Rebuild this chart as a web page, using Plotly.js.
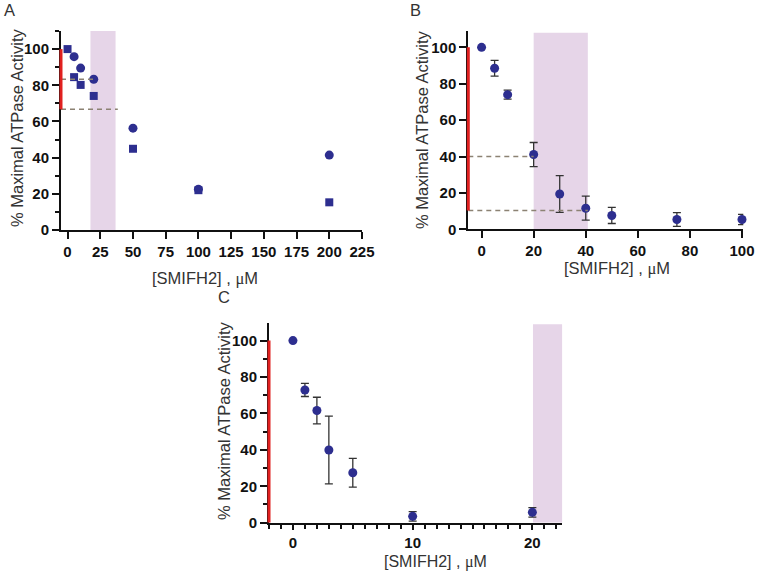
<!DOCTYPE html>
<html>
<head>
<meta charset="utf-8">
<script src="https://cdn.plot.ly/plotly-3.0.1.min.js"></script>
<style>html,body{margin:0;padding:0;background:#fff;}#chart{width:758px;height:572px;}</style>
</head>
<body>
<div id="chart"></div>
<script>
// Panel A
var aCircleX = [5, 10, 20, 50, 100, 200];
var aCircleY = [95.8, 89.5, 83.3, 56.3, 22.5, 41.4];
var aSquareX = [0, 5, 10, 20, 50, 100, 200];
var aSquareY = [100, 84.5, 80.2, 74.1, 44.9, 22.0, 15.3];
// Panel B
var bX = [0, 5, 10, 20, 30, 40, 50, 75, 100];
var bY = [100, 88.5, 74.0, 41.1, 19.4, 11.6, 7.6, 5.4, 5.4];
var bErr = [0, 4.3, 2.5, 6.6, 10.1, 6.6, 4.4, 3.8, 2.8];
// Panel C
var cX = [0, 1, 2, 3, 5, 10, 20];
var cY = [100, 72.9, 61.6, 39.9, 27.4, 3.5, 5.7];
var cErr = [0, 3.6, 7.3, 18.6, 7.9, 2.6, 2.6];

// Tick values
var yTicks = [0, 20, 40, 60, 80, 100];
var aXTicks = [0, 25, 50, 75, 100, 125, 150, 175, 200, 225];
var bXTicks = [0, 20, 40, 60, 80, 100];
var cXTicks = [0, 10, 20];

var yTitle = '% Maximal ATPase Activity';
var xTitle = '[SMIFH2] , <span style="font-family:\'Liberation Serif\', serif">μ</span>M';

var blue = '#2d2e8f';
var tickFont = {family: 'Liberation Sans, Arial, sans-serif', size: 15, color: '#111'};
var titleFont = {family: 'Liberation Sans, Arial, sans-serif', size: 16.5, color: '#333'};
var cTitleFont = {family: 'Liberation Sans, Arial, sans-serif', size: 16, color: '#333'};

function bold(arr) { return arr.map(function (v) { return '<b>' + v + '</b>'; }); }

function axisBase(extra) {
  var o = {
    showgrid: false, zeroline: false, showline: true, linecolor: '#111', linewidth: 2,
    ticks: 'outside', ticklen: 7, tickwidth: 2, tickcolor: '#111', tickfont: tickFont,
    fixedrange: true, tickmode: 'array'
  };
  for (var k in extra) o[k] = extra[k];
  return o;
}

var errStyle = function(arr) {
  return {type: 'data', array: arr, visible: true, color: '#333', thickness: 1.3, width: 4};
};

var traces = [
  {x: aCircleX, y: aCircleY, type: 'scatter', mode: 'markers', xaxis: 'x', yaxis: 'y',
   marker: {symbol: 'circle', size: 9, color: blue}, cliponaxis: false},
  {x: aSquareX, y: aSquareY, type: 'scatter', mode: 'markers', xaxis: 'x', yaxis: 'y',
   marker: {symbol: 'square', size: 8, color: blue}, cliponaxis: false},
  {x: bX, y: bY, type: 'scatter', mode: 'markers', xaxis: 'x2', yaxis: 'y2',
   marker: {symbol: 'circle', size: 9, color: blue}, error_y: errStyle(bErr), cliponaxis: false},
  {x: cX, y: cY, type: 'scatter', mode: 'markers', xaxis: 'x3', yaxis: 'y3',
   marker: {symbol: 'circle', size: 9, color: blue}, error_y: errStyle(cErr), cliponaxis: false}
];

var W = 758, H = 572;
var domA = {x: [61 / W, 362 / W], y: [1 - 230 / H, 1 - 31 / H]};
var domB = {x: [468.3 / W, 743.3 / W], y: [1 - 229.3 / H, 1 - 31 / H]};
var domC = {x: [269 / W, 562.3 / W], y: [1 - 522.7 / H, 1 - 323.3 / H]};

var shade = '#e6d5e8';
var red = '#e0201f';
var dashCol = '#8c8273';
var minorY = {dtick: 10, ticklen: 4, tickwidth: 2, tickcolor: '#111', showgrid: false, tickmode: 'linear', tick0: 0};

var layout = {
  width: W, height: H,
  margin: {l: 0, r: 0, t: 0, b: 0},
  paper_bgcolor: '#fff', plot_bgcolor: 'rgba(0,0,0,0)',
  showlegend: false,
  xaxis: axisBase({domain: domA.x, anchor: 'y', range: [-5, 225], tickvals: aXTicks, ticktext: bold(aXTicks)}),
  yaxis: axisBase({domain: domA.y, anchor: 'x', range: [0, 110], tickvals: yTicks, ticktext: bold(yTicks), minor: minorY}),
  xaxis2: axisBase({domain: domB.x, anchor: 'y2', range: [-5.1, 100.5], tickvals: bXTicks, ticktext: bold(bXTicks)}),
  yaxis2: axisBase({domain: domB.y, anchor: 'x2', range: [0, 109], tickvals: yTicks, ticktext: bold(yTicks)}),
  xaxis3: axisBase({domain: domC.x, anchor: 'y3', range: [-2, 22.5], tickvals: cXTicks, ticktext: bold(cXTicks), ticklen: 5,
    minor: {dtick: 1, ticklen: 4, tickwidth: 2, tickcolor: '#111', showgrid: false, tickmode: 'linear', tick0: 0}}),
  yaxis3: axisBase({domain: domC.y, anchor: 'x3', range: [0, 109.5], tickvals: yTicks, ticktext: bold(yTicks), minor: minorY}),
  shapes: [
    {type: 'rect', xref: 'x', yref: 'y', x0: 17.5, x1: 36.7, y0: 0, y1: 110, fillcolor: shade, line: {width: 0}, layer: 'below'},
    {type: 'rect', xref: 'x2', yref: 'y2', x0: 20, x1: 40.8, y0: 0, y1: 108, fillcolor: shade, line: {width: 0}, layer: 'below'},
    {type: 'rect', xref: 'x3', yref: 'y3', x0: 20.05, x1: 22.5, y0: 0, y1: 109, fillcolor: shade, line: {width: 0}, layer: 'below'},
    {type: 'line', xref: 'x', yref: 'y', x0: -5, x1: 19.5, y0: 83.3, y1: 83.3, line: {color: dashCol, width: 1.5, dash: '5px,4px'}},
    {type: 'line', xref: 'x', yref: 'y', x0: -5, x1: 38.4, y0: 66.7, y1: 66.7, line: {color: dashCol, width: 1.5, dash: '5px,4px'}},
    {type: 'line', xref: 'x2', yref: 'y2', x0: -5.1, x1: 20, y0: 40, y1: 40, line: {color: dashCol, width: 1.5, dash: '5px,4px'}},
    {type: 'line', xref: 'x2', yref: 'y2', x0: -5.1, x1: 40.8, y0: 10.3, y1: 10.3, line: {color: dashCol, width: 1.5, dash: '5px,4px'}},
    {type: 'line', xref: 'paper', yref: 'y', x0: domA.x[0], x1: domA.x[0], y0: 66.7, y1: 100, line: {color: red, width: 3}},
    {type: 'line', xref: 'paper', yref: 'y2', x0: domB.x[0], x1: domB.x[0], y0: 10.3, y1: 100, line: {color: red, width: 3}},
    {type: 'line', xref: 'paper', yref: 'y3', x0: domC.x[0], x1: domC.x[0], y0: 0, y1: 100, line: {color: red, width: 3}}
  ],
  annotations: [
    {text: 'A', xref: 'paper', yref: 'paper', x: 9 / W, y: 1 - 10 / H, showarrow: false, xanchor: 'center', yanchor: 'middle', font: titleFont},
    {text: 'B', xref: 'paper', yref: 'paper', x: 415 / W, y: 1 - 10 / H, showarrow: false, xanchor: 'center', yanchor: 'middle', font: titleFont},
    {text: 'C', xref: 'paper', yref: 'paper', x: 224 / W, y: 1 - 297 / H, showarrow: false, xanchor: 'center', yanchor: 'middle', font: titleFont},
    {text: yTitle, xref: 'paper', yref: 'paper', x: 17 / W, y: 1 - 128 / H, textangle: -90, showarrow: false, xanchor: 'center', yanchor: 'middle', font: titleFont},
    {text: yTitle, xref: 'paper', yref: 'paper', x: 422 / W, y: 1 - 130 / H, textangle: -90, showarrow: false, xanchor: 'center', yanchor: 'middle', font: titleFont},
    {text: yTitle, xref: 'paper', yref: 'paper', x: 224 / W, y: 1 - 421 / H, textangle: -90, showarrow: false, xanchor: 'center', yanchor: 'middle', font: titleFont},
    {text: xTitle, xref: 'paper', yref: 'paper', x: 205 / W, y: 1 - 278 / H, showarrow: false, xanchor: 'center', yanchor: 'middle', font: titleFont},
    {text: xTitle, xref: 'paper', yref: 'paper', x: 617 / W, y: 1 - 268 / H, showarrow: false, xanchor: 'center', yanchor: 'middle', font: titleFont},
    {text: xTitle, xref: 'paper', yref: 'paper', x: 435 / W, y: 1 - 562 / H, showarrow: false, xanchor: 'center', yanchor: 'middle', font: cTitleFont}
  ]
};

Plotly.newPlot('chart', traces, layout, {displayModeBar: false, staticPlot: true});
</script>
</body>
</html>
